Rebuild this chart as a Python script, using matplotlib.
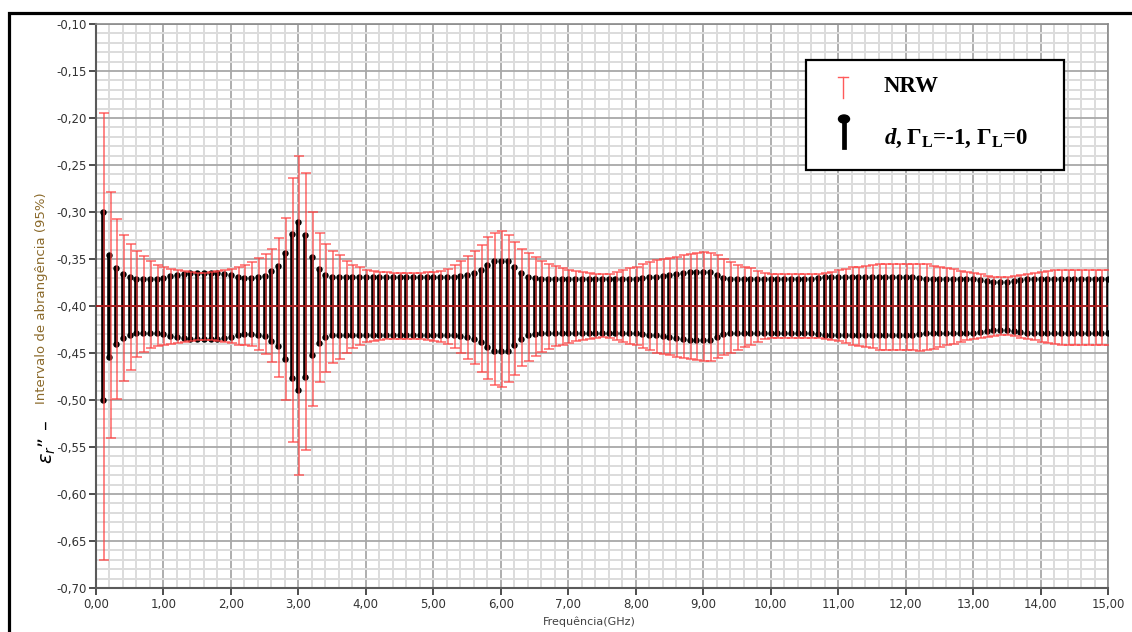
import numpy as np
import matplotlib.pyplot as plt
from matplotlib.ticker import MultipleLocator, FuncFormatter
from matplotlib.patches import Rectangle, Ellipse
from matplotlib.lines import Line2D

plt.rcParams['mathtext.rm'] = 'Liberation Serif:bold'
plt.rcParams['mathtext.it'] = 'Liberation Serif:italic:bold'
plt.rcParams['mathtext.bf'] = 'Liberation Serif:bold'

# frequency points (GHz), one every 0.1 GHz
freq = np.arange(1, 151) / 10
center = np.full(freq.size, -0.40)

# half width of the d, GammaL=-1, GammaL=0 interval
d_half = [
    0.100, 0.054, 0.040, 0.034, 0.031, 0.029, 0.029, 0.029, 0.029, 0.030,
    0.032, 0.033, 0.034, 0.035, 0.035, 0.035, 0.035, 0.035, 0.034, 0.033,
    0.031, 0.030, 0.030, 0.031, 0.032, 0.037, 0.043, 0.056, 0.077, 0.089,
    0.076, 0.052, 0.039, 0.033, 0.031, 0.031, 0.031, 0.031, 0.031, 0.031,
    0.031, 0.031, 0.031, 0.031, 0.031, 0.031, 0.031, 0.031, 0.031, 0.031,
    0.031, 0.031, 0.031, 0.032, 0.033, 0.035, 0.038, 0.044, 0.048, 0.048,
    0.048, 0.042, 0.035, 0.031, 0.030, 0.029, 0.029, 0.029, 0.029, 0.029,
    0.029, 0.029, 0.029, 0.029, 0.029, 0.029, 0.029, 0.029, 0.029, 0.029,
    0.030, 0.031, 0.031, 0.032, 0.033, 0.034, 0.035, 0.036, 0.036, 0.036,
    0.036, 0.033, 0.030, 0.029, 0.029, 0.029, 0.029, 0.029, 0.029, 0.029,
    0.029, 0.029, 0.029, 0.029, 0.029, 0.029, 0.030, 0.031, 0.031, 0.031,
    0.031, 0.031, 0.031, 0.031, 0.031, 0.031, 0.031, 0.031, 0.031, 0.031,
    0.031, 0.030, 0.029, 0.029, 0.029, 0.029, 0.029, 0.029, 0.029, 0.029,
    0.028, 0.027, 0.026, 0.026, 0.026, 0.027, 0.028, 0.029, 0.029, 0.029,
    0.029, 0.029, 0.029, 0.029, 0.029, 0.029, 0.029, 0.029, 0.029, 0.029,
]

# NRW interval, distance above and below the centre value
nrw_up = [
    0.205, 0.121, 0.093, 0.076, 0.066, 0.058, 0.053, 0.048, 0.044, 0.041,
    0.039, 0.038, 0.037, 0.036, 0.035, 0.035, 0.036, 0.037, 0.038, 0.039,
    0.041, 0.044, 0.047, 0.051, 0.055, 0.061, 0.072, 0.094, 0.136, 0.160,
    0.142, 0.100, 0.078, 0.066, 0.059, 0.054, 0.048, 0.044, 0.041, 0.038,
    0.037, 0.036, 0.036, 0.035, 0.035, 0.035, 0.035, 0.035, 0.036, 0.036,
    0.037, 0.039, 0.044, 0.048, 0.053, 0.058, 0.065, 0.073, 0.078, 0.080,
    0.076, 0.068, 0.061, 0.056, 0.052, 0.048, 0.045, 0.043, 0.040, 0.038,
    0.037, 0.036, 0.035, 0.034, 0.034, 0.034, 0.036, 0.038, 0.040, 0.042,
    0.045, 0.047, 0.049, 0.050, 0.051, 0.052, 0.054, 0.055, 0.056, 0.057,
    0.056, 0.054, 0.050, 0.047, 0.044, 0.042, 0.040, 0.037, 0.035, 0.034,
    0.034, 0.034, 0.034, 0.034, 0.034, 0.034, 0.034, 0.035, 0.036, 0.038,
    0.039, 0.041, 0.042, 0.043, 0.044, 0.045, 0.045, 0.045, 0.045, 0.045,
    0.045, 0.045, 0.045, 0.043, 0.042, 0.040, 0.039, 0.037, 0.036, 0.035,
    0.034, 0.032, 0.031, 0.031, 0.031, 0.032, 0.033, 0.034, 0.035, 0.036,
    0.037, 0.038, 0.038, 0.038, 0.038, 0.038, 0.038, 0.038, 0.038, 0.038,
]
nrw_down = [
    0.270, 0.140, 0.099, 0.080, 0.068, 0.054, 0.049, 0.045, 0.043, 0.042,
    0.040, 0.039, 0.038, 0.037, 0.036, 0.036, 0.036, 0.037, 0.038, 0.039,
    0.041, 0.042, 0.043, 0.047, 0.051, 0.060, 0.075, 0.100, 0.145, 0.180,
    0.153, 0.106, 0.081, 0.070, 0.061, 0.056, 0.050, 0.045, 0.042, 0.038,
    0.037, 0.036, 0.035, 0.035, 0.035, 0.035, 0.035, 0.035, 0.036, 0.037,
    0.038, 0.040, 0.045, 0.050, 0.056, 0.062, 0.070, 0.078, 0.084, 0.086,
    0.081, 0.073, 0.064, 0.058, 0.053, 0.049, 0.046, 0.043, 0.041, 0.039,
    0.037, 0.036, 0.035, 0.034, 0.033, 0.034, 0.036, 0.038, 0.040, 0.042,
    0.045, 0.047, 0.050, 0.051, 0.052, 0.054, 0.055, 0.056, 0.057, 0.058,
    0.058, 0.055, 0.052, 0.050, 0.047, 0.044, 0.041, 0.038, 0.035, 0.034,
    0.034, 0.034, 0.034, 0.034, 0.034, 0.034, 0.034, 0.035, 0.036, 0.037,
    0.039, 0.041, 0.043, 0.044, 0.045, 0.047, 0.047, 0.047, 0.047, 0.047,
    0.047, 0.048, 0.047, 0.046, 0.044, 0.042, 0.040, 0.038, 0.036, 0.035,
    0.034, 0.033, 0.032, 0.031, 0.031, 0.032, 0.034, 0.035, 0.036, 0.038,
    0.039, 0.040, 0.041, 0.041, 0.041, 0.041, 0.041, 0.041, 0.041, 0.042,
]

d_half = np.array(d_half)
nrw_up = np.array(nrw_up)
nrw_down = np.array(nrw_down)

W, H = 1132, 632


def px(x, y):
    # pixel position -> figure fraction
    return x / W, 1 - y / H


fig = plt.figure(figsize=(W / 100, H / 100), dpi=100)
ax = fig.add_axes([96 / W, 1 - 588 / H, (1108 - 96) / W, (588 - 24) / H])

# d interval: thick black bars with round ends
ax.vlines(freq, center - d_half, center + d_half, color='black', lw=2.6, zorder=3)
ax.plot(freq, center + d_half, 'o', color='black', ms=3.6, zorder=3)
ax.plot(freq, center - d_half, 'o', color='black', ms=3.6, zorder=3)

# NRW interval: thin red bars with caps
ax.errorbar(freq + 0.015, center, yerr=[nrw_down, nrw_up], fmt='none',
            ecolor='#ff4040', elinewidth=1.1, capsize=3.6, capthick=1.1,
            alpha=0.8, zorder=4)

ax.axhline(center.mean(), color='#a82020', lw=1.4, zorder=5)

ax.set_xlim(0, 15)
ax.set_ylim(-0.70, -0.10)

ax.xaxis.set_major_locator(MultipleLocator(1))
ax.xaxis.set_minor_locator(MultipleLocator(0.2))
ax.yaxis.set_major_locator(MultipleLocator(0.05))
ax.yaxis.set_minor_locator(MultipleLocator(0.01))

comma = FuncFormatter(lambda v, pos: f'{v:.2f}'.replace('.', ','))
ax.xaxis.set_major_formatter(comma)
ax.yaxis.set_major_formatter(comma)

ax.set_axisbelow(True)
ax.grid(which='major', color='#a8a8a8', lw=1.3)
ax.grid(which='minor', color='#dcdcdc', lw=1.4)

ax.tick_params(which='major', direction='out', length=5, width=1.3,
               color='#404040', labelsize=8.5, labelcolor='#333333', pad=2)
ax.tick_params(which='minor', length=0)

for side in ['left', 'bottom']:
    ax.spines[side].set_color('#5a5a5a')
    ax.spines[side].set_linewidth(1.5)
for side in ['top', 'right']:
    ax.spines[side].set_color('#8a8a8a')
    ax.spines[side].set_linewidth(1.2)

# axis titles
fig.text(*px(589, 622), 'Frequência(GHz)', ha='center', va='center',
         fontsize=8, color='#404040')
fig.text(*px(42, 298), 'Intervalo de abrangência (95%)', rotation=90,
         ha='center', va='center', fontsize=9.5, color='#8b6a2b')
fig.text(*px(47, 442), r'$\varepsilon_r$” –', rotation=90, ha='center',
         va='center', fontsize=14, color='black', math_fontfamily='dejavusans',
         bbox=dict(facecolor='white', edgecolor='none', pad=0.5))

# legend box
fig.add_artist(Rectangle(px(806, 170), 258 / W, 110 / H, transform=fig.transFigure,
                         facecolor='white', edgecolor='black', lw=1.6, zorder=10))
x0, y0 = px(843, 77)
x1, y1 = px(843, 98)
fig.add_artist(Line2D([x0, x1], [y0, y1], color='#ff5a5a', lw=1.0,
                      transform=fig.transFigure, zorder=11))
fig.add_artist(Line2D([px(838, 0)[0], px(848, 0)[0]], [y0, y0], color='#ff5a5a',
                      lw=1.0, transform=fig.transFigure, zorder=11))
fig.add_artist(Line2D([px(844, 0)[0]] * 2, [px(0, 121)[1], px(0, 147)[1]],
                      color='black', lw=3.4, transform=fig.transFigure, zorder=11))
fig.add_artist(Ellipse(px(844, 119), 11 / W, 8 / H, transform=fig.transFigure,
                       color='black', zorder=11))
fig.text(*px(884, 86), 'NRW', fontfamily='Liberation Serif', fontweight='bold',
         fontsize=16.5, va='center', zorder=12)
fig.text(*px(884, 138), r'$d$, Γ$_\mathrm{L}$=-1, Γ$_\mathrm{L}$=0',
         fontfamily='Liberation Serif', fontweight='bold', fontsize=16.5,
         va='center', math_fontfamily='custom', zorder=12)

# outer frame
fig.add_artist(Rectangle(px(8.5, 700), 1.2, (700 - 13) / H, transform=fig.transFigure,
                         fill=False, edgecolor='black', lw=2.3, zorder=20))

fig.savefig('out.png', dpi=100)
